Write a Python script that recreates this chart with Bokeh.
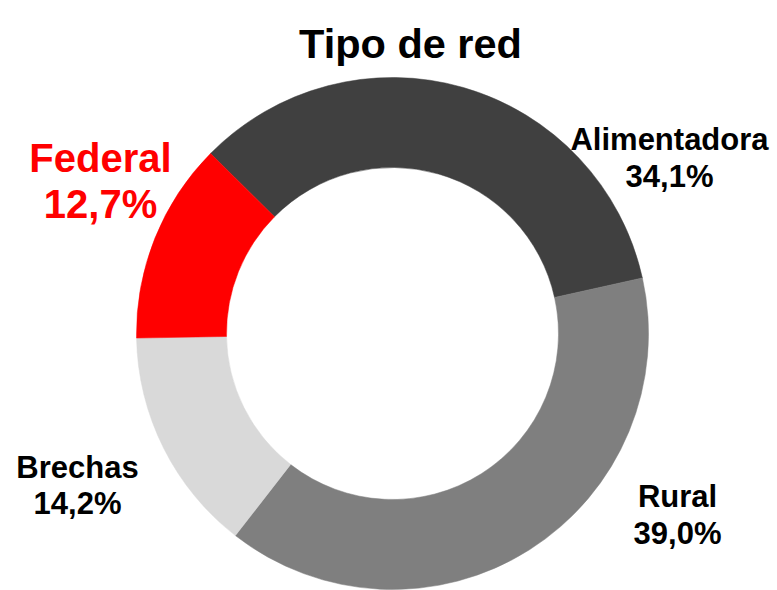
import math
from bokeh.plotting import figure
from bokeh.models import ColumnDataSource, Range1d
from bokeh.core.properties import value
from bokeh.embed import file_html
from bokeh.resources import INLINE

# Data (clockwise order, starting at upper-left)
categories = ["Alimentadora", "Rural", "Brechas", "Federal"]
shares = [34.1, 39.0, 14.2, 12.7]
pct_labels = ["34,1%", "39,0%", "14,2%", "12,7%"]
colors = ["#404040", "#7f7f7f", "#d9d9d9", "#ff0000"]
label_colors = ["black", "black", "black", "#ff0000"]
title_text = "Tipo de red"

W, H = 777, 590


def px(X):
    return X


def py(Y):
    return H - Y


p = figure(width=W, height=H, output_backend="svg", toolbar_location=None,
           x_range=Range1d(0, W), y_range=Range1d(0, H), min_border=0)
p.axis.visible = False
p.grid.visible = False
p.outline_line_color = None
p.background_fill_color = "white"
p.border_fill_color = "white"

# wedges
total = sum(shares)
start0 = math.radians(135.3)
starts, ends = [], []
a = start0
for s in shares:
    starts.append(a)
    a -= s / total * 2 * math.pi
    ends.append(a)

src = ColumnDataSource(dict(cat=categories, start=starts, end=ends, color=colors))
cx, cy = px(392), py(333)
p.annular_wedge(x=cx, y=cy, inner_radius=166, outer_radius=256,
                start_angle="start", end_angle="end", direction="clock",
                color="color", line_color="color", line_width=0.5, source=src)

# title
p.text(x=[px(410)], y=[py(43)], text=[title_text], text_font=value("Liberation Sans"),
       text_font_style="bold", text_font_size="41.5px", text_align="center",
       text_baseline="alphabetic", text_color="black")

# labels: (center x, baseline1, baseline2, font size)
label_pos = [(669, 139, 176, "31px"), (677, 496, 533, "31px"),
             (77, 467, 503, "31px"), (100, 157, 203, "40px")]
for i, (lx, b1, b2, fs) in enumerate(label_pos):
    p.text(x=[px(lx)], y=[py(b1)], text=[categories[i]], text_font=value("Liberation Sans"),
           text_font_style="bold", text_font_size=fs, text_align="center",
           text_baseline="alphabetic", text_color=label_colors[i])
    p.text(x=[px(lx)], y=[py(b2)], text=[pct_labels[i]], text_font=value("Liberation Sans"),
           text_font_style="bold", text_font_size=fs, text_align="center",
           text_baseline="alphabetic", text_color=label_colors[i])

open("out.html", "w").write(file_html(p, INLINE))
